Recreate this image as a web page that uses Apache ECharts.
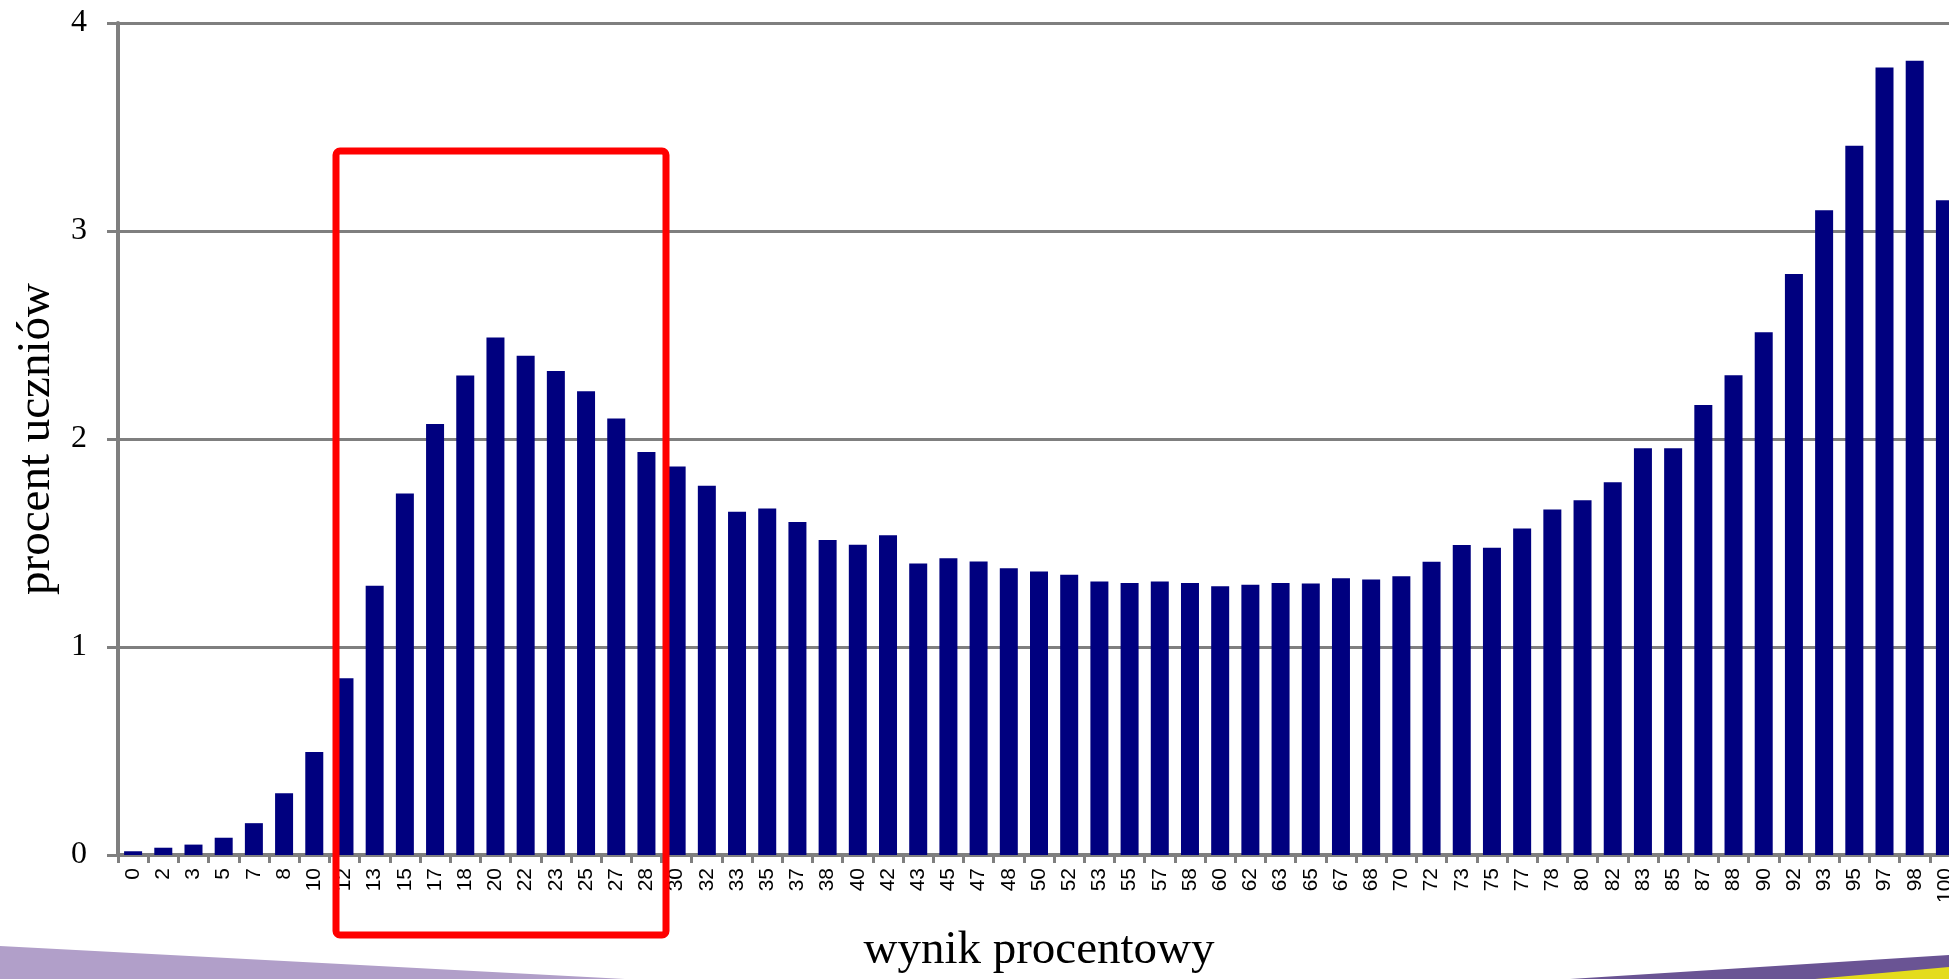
<!DOCTYPE html>
<html>
<head>
<meta charset="utf-8">
<title>procent uczniów</title>
<script src="https://cdn.jsdelivr.net/npm/echarts@6/dist/echarts.min.js"></script>
<style>
  html, body { margin: 0; padding: 0; background: #fff; overflow: hidden; }
  #main { width: 1960px; height: 979px; }
</style>
</head>
<body>
<div id="main"></div>
<script>
// wynik procentowy (kategorie osi X)
var categories = ['0', '2', '3', '5', '7', '8', '10', '12', '13', '15', '17', '18', '20', '22', '23', '25', '27', '28',
    '30', '32', '33', '35', '37', '38', '40', '42', '43', '45', '47', '48', '50', '52', '53', '55', '57', '58',
    '60', '62', '63', '65', '67', '68', '70', '72', '73', '75', '77', '78', '80', '82', '83', '85', '87', '88',
    '90', '92', '93', '95', '97', '98', '100'];

// procent uczniów
var values = [0.018, 0.035, 0.05, 0.083, 0.153, 0.297, 0.495, 0.85, 1.294, 1.738, 2.072, 2.305, 2.488, 2.40, 2.327, 2.23, 2.098, 1.937,
    1.868, 1.775, 1.650, 1.666, 1.601, 1.514, 1.492, 1.537, 1.402, 1.427, 1.411, 1.379, 1.363, 1.347, 1.315, 1.308, 1.315, 1.308,
    1.292, 1.299, 1.308, 1.305, 1.330, 1.324, 1.340, 1.410, 1.490, 1.477, 1.570, 1.661, 1.706, 1.792, 1.955, 1.955, 2.163, 2.307,
    2.513, 2.793, 3.100, 3.410, 3.786, 3.818, 3.148];

var yMin = 0;
var yMax = 4;
var yStep = 1;

var gray = '#7f7f7f';

var myChart = echarts.init(document.getElementById('main'));

myChart.setOption({
    animation: false,
    backgroundColor: '#ffffff',
    grid: {
        left: 118,
        right: 0,
        top: 23,
        bottom: 124,
        containLabel: false
    },
    xAxis: {
        type: 'category',
        data: categories,
        boundaryGap: true,
        name: 'wynik procentowy',
        nameLocation: 'middle',
        nameGap: 72,
        nameTextStyle: {
            fontFamily: 'Liberation Serif',
            fontSize: 47,
            color: '#000'
        },
        axisLine: { show: true, lineStyle: { color: gray, width: 4 } },
        axisTick: {
            show: true,
            interval: 0,
            alignWithLabel: false,
            length: 8,
            lineStyle: { color: gray, width: 3 }
        },
        axisLabel: {
            interval: 0,
            rotate: 90,
            margin: 13,
            fontFamily: 'Liberation Sans',
            fontSize: 21,
            color: '#000'
        },
        splitLine: { show: false }
    },
    yAxis: {
        type: 'value',
        min: yMin,
        max: yMax,
        interval: yStep,
        name: 'procent uczniów',
        nameLocation: 'middle',
        nameRotate: 90,
        nameGap: 58,
        nameTextStyle: {
            fontFamily: 'Liberation Serif',
            fontSize: 47,
            color: '#000'
        },
        axisLine: { show: true, lineStyle: { color: gray, width: 4 } },
        axisTick: { show: true, length: 11, lineStyle: { color: gray, width: 3 } },
        axisLabel: {
            margin: 31,
            fontFamily: 'Liberation Serif',
            fontSize: 32,
            color: '#000'
        },
        splitLine: { show: true, lineStyle: { color: gray, width: 3 } }
    },
    series: [{
        type: 'bar',
        data: values,
        barWidth: 18,
        itemStyle: { color: '#00007f' },
        z: 3
    }],
    graphic: [
        // ramka zaznaczenia
        {
            type: 'rect',
            z: 100,
            shape: { x: 336, y: 151, width: 330, height: 784, r: 4 },
            style: { fill: 'none', stroke: '#ff0000', lineWidth: 7 }
        },
        // dekoracje slajdu u dołu
        {
            type: 'polygon',
            z: 1,
            shape: { points: [[0, 946], [625, 979], [0, 979]] },
            style: { fill: '#b19fc9' }
        },
        {
            type: 'polygon',
            z: 1,
            shape: { points: [[1570, 979], [1949, 955], [1949, 979]] },
            style: { fill: '#6a5494' }
        },
        {
            type: 'polygon',
            z: 2,
            shape: { points: [[1815, 979], [1949, 967], [1949, 979]] },
            style: { fill: '#e4dc1c' }
        }
    ]
});
</script>
</body>
</html>
